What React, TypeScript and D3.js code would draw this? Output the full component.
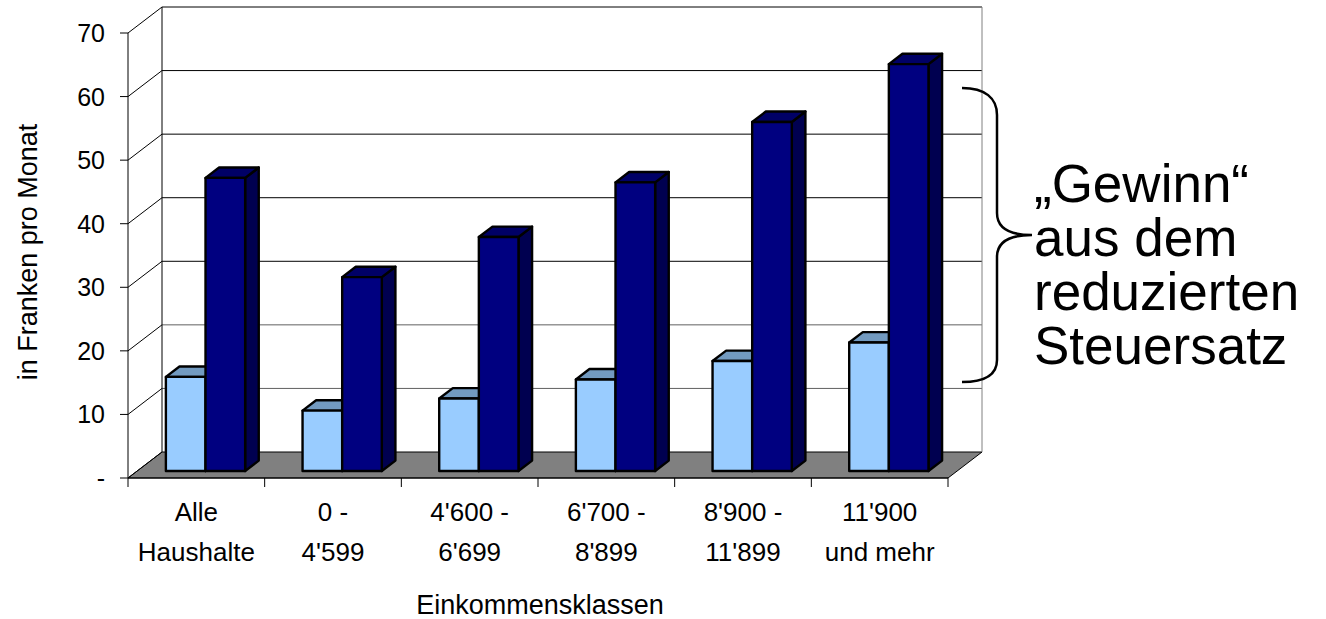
import React from "react";
import * as d3 from "d3";

// Einkommensklassen (two-line labels)
const categories: string[][] = [
  ["Alle", "Haushalte"],
  ["0 -", "4'599"],
  ["4'600 -", "6'699"],
  ["6'700 -", "8'899"],
  ["8'900 -", "11'899"],
  ["11'900", "und mehr"],
];
// Light series (front-left bar of each pair)
const seriesLight: number[] = [14.8, 9.5, 11.4, 14.4, 17.3, 20.2];
// Dark series (taller bar of each pair)
const seriesDark: number[] = [46.1, 30.5, 36.8, 45.4, 54.9, 64.0];
const yTicks: number[] = [0, 10, 20, 30, 40, 50, 60, 70];
const yTickLabels: string[] = ["-", "10", "20", "30", "40", "50", "60", "70"];
const calloutLines: string[] = ["\u201EGewinn\u201C", "aus dem", "reduzierten", "Steuersatz"];

const W = 1326;
const H = 619;
const FONT = "'Liberation Sans', Arial, Helvetica, sans-serif";

// oblique projection: full depth of the plot box
const DEPTH_X = 34;
const DEPTH_Y = 26;
// bars sit between these depth fractions
const BAR_F0 = 0.27;
const BAR_F1 = 0.67;

export default function App() {
  const x0 = 128;
  const x1 = 948;
  const y = d3.scaleLinear().domain([0, 70]).range([478, 33]);
  const xBand = d3
    .scaleBand<number>()
    .domain(d3.range(categories.length))
    .range([x0, x1])
    .paddingInner(0)
    .paddingOuter(0);
  const bw = xBand.bandwidth();
  const groupPad = 0.21 * bw;
  const xSeries = d3
    .scaleBand<string>()
    .domain(["light", "dark"])
    .range([groupPad, bw - groupPad])
    .padding(0);
  const barW = xSeries.bandwidth();

  const back = (px: number, py: number, f: number): [number, number] => [
    px + DEPTH_X * f,
    py - DEPTH_Y * f,
  ];

  const poly = (pts: [number, number][]) =>
    pts.map((p) => `${p[0].toFixed(2)},${p[1].toFixed(2)}`).join(" ");

  const floor = poly([
    [x0, y(0)],
    [x1, y(0)],
    back(x1, y(0), 1),
    back(x0, y(0), 1),
  ]);

  const drawBar = (
    key: string,
    i: number,
    v: number,
    fills: { front: string; top: string; side: string }
  ) => {
    const left = (xBand(i) as number) + (xSeries(key) as number) + DEPTH_X * BAR_F0;
    const right = left + barW;
    const bottom = y(0) - DEPTH_Y * BAR_F0;
    const top = bottom - (y(0) - y(v));
    const df = BAR_F1 - BAR_F0;
    const ddx = DEPTH_X * df;
    const ddy = DEPTH_Y * df;
    return (
      <g key={`${key}-${i}`} stroke="#000" strokeWidth={2.4} strokeLinejoin="round">
        <polygon
          points={poly([
            [right, top],
            [right + ddx, top - ddy],
            [right + ddx, bottom - ddy],
            [right, bottom],
          ])}
          fill={fills.side}
        />
        <polygon
          points={poly([
            [left, top],
            [left + ddx, top - ddy],
            [right + ddx, top - ddy],
            [right, top],
          ])}
          fill={fills.top}
        />
        <rect x={left} y={top} width={barW} height={bottom - top} fill={fills.front} />
      </g>
    );
  };

  const bx0 = x0 + DEPTH_X;
  const bx1 = x1 + DEPTH_X;

  return (
    <svg
      width={W}
      height={H}
      style={{ position: "absolute", left: 0, top: 0, background: "#fff" }}
      fontFamily={FONT}
    >
      {/* back wall */}
      <rect x={bx0} y={y(70) - DEPTH_Y} width={bx1 - bx0} height={y(0) - y(70)} fill="#fff" />
      {/* floor */}
      <polygon points={floor} fill="#808080" stroke="#000" strokeWidth={1} />

      {/* gridlines: back wall + side wall diagonals */}
      {yTicks.map((t) => (
        <g key={`g${t}`} strokeWidth={1}>
          {t > 0 && (
            <line x1={bx0} x2={bx1} y1={y(t) - DEPTH_Y} y2={y(t) - DEPTH_Y} stroke={t <= 20 ? "#606060" : "#000"} />
          )}
          <line x1={x0} y1={y(t)} x2={bx0} y2={y(t) - DEPTH_Y} stroke="#000" />
        </g>
      ))}
      {/* wall edges */}
      <line x1={bx0} x2={bx0} y1={y(70) - DEPTH_Y} y2={y(0) - DEPTH_Y} stroke="#000" strokeWidth={1} />
      <line x1={bx1} x2={bx1} y1={y(70) - DEPTH_Y} y2={y(0) - DEPTH_Y} stroke="#808080" strokeWidth={1} />

      {/* bars */}
      {categories.map((_, i) => (
        <g key={`c${i}`}>
          {drawBar("light", i, seriesLight[i], { front: "#99CCFF", top: "#729AC0", side: "#4D6680" })}
          {drawBar("dark", i, seriesDark[i], { front: "#000080", top: "#000066", side: "#000050" })}
        </g>
      ))}

      {/* value axis */}
      <line x1={x0} x2={x0} y1={y(70)} y2={y(0)} stroke="#000" strokeWidth={1} />
      {yTicks.map((t, k) => (
        <g key={`yt${t}`}>
          <line x1={x0 - 8} x2={x0} y1={y(t)} y2={y(t)} stroke="#000" strokeWidth={1} />
          <text
            x={x0 - 23}
            y={y(t)}
            textAnchor="end"
            dominantBaseline="central"
            fontSize={25}
            fill="#000"
          >
            {yTickLabels[k]}
          </text>
        </g>
      ))}
      <text
        transform={`translate(37,252) rotate(-90)`}
        textAnchor="middle"
        fontSize={27}
        fill="#000"
      >
        in Franken pro Monat
      </text>

      {/* category axis */}
      <line x1={x0} x2={x1} y1={y(0)} y2={y(0)} stroke="#000" strokeWidth={1.2} />
      {d3.range(categories.length + 1).map((k) => {
        const tx = x0 + k * bw;
        return <line key={`xt${k}`} x1={tx} x2={tx} y1={y(0)} y2={y(0) + 9} stroke="#000" strokeWidth={1} />;
      })}
      {categories.map((lines, i) => {
        const cx = (xBand(i) as number) + bw / 2;
        return (
          <text key={`xl${i}`} textAnchor="middle" fontSize={26} fill="#000">
            {lines.map((ln, j) => (
              <tspan key={j} x={cx} y={521 + j * 40}>
                {ln}
              </tspan>
            ))}
          </text>
        );
      })}
      <text x={(x0 + x1) / 2 + 2} y={614} textAnchor="middle" fontSize={27} fill="#000">
        Einkommensklassen
      </text>

      {/* curly brace */}
      <path
        d="M962,88 C985,88 997,98 997,115 L997,213 C997,228 1010,235 1032,235 C1010,235 997,242 997,257 L997,360 C997,375 985,382 962,382"
        fill="none"
        stroke="#000"
        strokeWidth={2.5}
      />
      {calloutLines.map((ln, k) => (
        <text key={`co${k}`} x={1034} y={202 + k * 54} fontSize={53} fill="#000">
          {ln}
        </text>
      ))}
    </svg>
  );
}
